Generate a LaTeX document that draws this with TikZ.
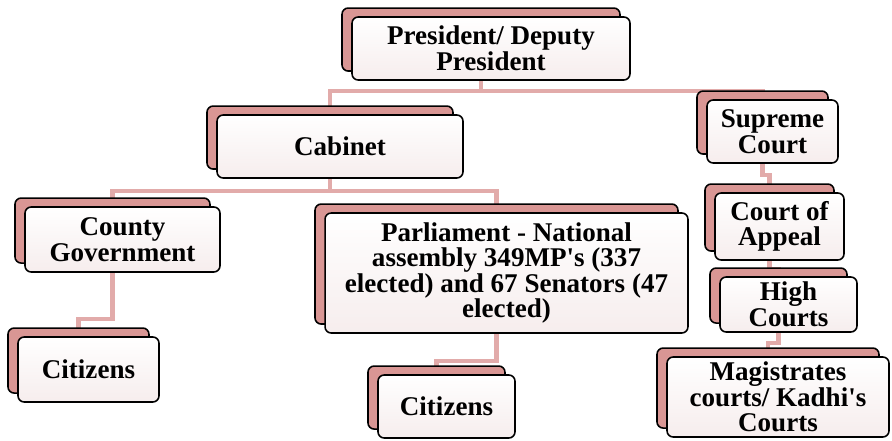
\documentclass[tikz,border=0pt]{standalone}
\usepackage{fontspec}
\setmainfont{Liberation Serif}
\usetikzlibrary{shadows,backgrounds}
\definecolor{backpink}{HTML}{D99694}
\definecolor{linkpink}{HTML}{E2ABAA}
\definecolor{boxpink}{HTML}{F6EDED}
\begin{document}
\begin{tikzpicture}[x=0.02cm, y=-0.02cm, line join=round,
    box/.style={draw=black, line width=0.9pt, rounded corners=3.5pt,
      top color=white, bottom color=boxpink, align=center, inner sep=0pt,
      font=\fontsize{15.4}{14.6}\selectfont\bfseries,
      copy shadow={shadow xshift=-5.7pt, shadow yshift=5.1pt,
        fill=backpink, draw=black, line width=0.9pt}},
    link/.style={draw=linkpink, line width=2.3pt}]
  \useasboundingbox (0,0) rectangle (892,440);
  \node[box, minimum width=5.56cm, minimum height=1.26cm] (pres) at (491,48.5) {President/ Deputy\\President};
  \node[box, minimum width=4.92cm, minimum height=1.26cm] (cab) at (340,146.5) {Cabinet};
  \node[box, minimum width=2.62cm, minimum height=1.26cm] (sup) at (772.5,131.5) {Supreme\\Court};
  \node[box, minimum width=3.9cm, minimum height=1.3cm] (county) at (122.5,239.5) {County\\Government};
  \node[box, minimum width=7.26cm, minimum height=2.4cm] (parl) at (506.5,273) {Parliament - National\\assembly 349MP\textquotesingle s (337\\elected) and 67 Senators (47\\elected)};
  \node[box, minimum width=2.82cm, minimum height=1.3cm] (cit1) at (88.5,369.5) {Citizens};
  \node[box, minimum width=2.74cm, minimum height=1.26cm] (cit2) at (446.5,406.5) {Citizens};
  \node[box, minimum width=2.58cm, minimum height=1.34cm] (appeal) at (779.5,226.5) {Court of\\Appeal};
  \node[box, minimum width=2.74cm, minimum height=1.1cm] (high) at (788.5,304.5) {High\\Courts};
  \node[box, minimum width=4.44cm, minimum height=1.6cm] (mag) at (778,397) {Magistrates\\courts/ Kadhi\textquotesingle s\\Courts};
  \begin{scope}[on background layer]
    \draw[link] ([xshift=-5.7pt]pres.south) -- ++(0,10) -| ([xshift=-5.7pt]cab.north);
    \draw[link] ([xshift=-5.7pt]pres.south) -- ++(0,10) -| ([xshift=-5.7pt]sup.north);
    \draw[link] ([xshift=-5.7pt]cab.south) -- ++(0,12) -| ([xshift=-5.7pt]county.north);
    \draw[link] ([xshift=-5.7pt]cab.south) -- ++(0,12) -| ([xshift=-5.7pt]parl.north);
    \draw[link] ([xshift=-5.7pt]county.south) -- ++(0,46) -| ([xshift=-5.7pt]cit1.north);
    \draw[link] ([xshift=-5.7pt]parl.south) -- ++(0,27) -| ([xshift=-5.7pt]cit2.north);
    \draw[link] ([xshift=-5.7pt]sup.south) -- ++(0,11) -| ([xshift=-5.7pt]appeal.north);
    \draw[link] ([xshift=-5.7pt]appeal.south) -- ++(0,8) -| ([xshift=-5.7pt]high.north);
    \draw[link] ([xshift=-5.7pt]high.south) -- ++(0,10) -| ([xshift=-5.7pt]mag.north);
  \end{scope}
\end{tikzpicture}
\end{document}
